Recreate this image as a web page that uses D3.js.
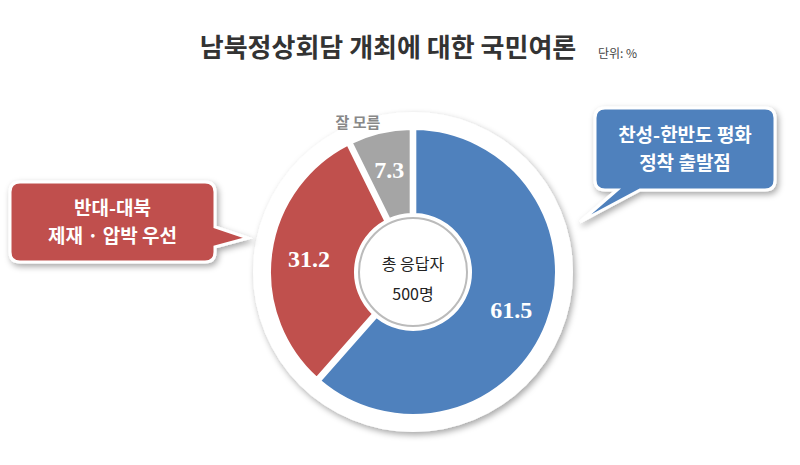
<!DOCTYPE html><html><head><meta charset="utf-8"><script src="https://cdn.jsdelivr.net/npm/d3@7"></script>
<style>body{margin:0;background:#fff}text{font-family:"Noto Sans CJK KR","Noto Sans",sans-serif}</style></head><body>
<svg id="c" width="800" height="465"></svg>
<script>
const categories=["찬성-한반도 평화 정착 출발점","반대-대북 제재 · 압박 우선","잘 모름"];
const values=[61.5,31.2,7.3];
const colors=["#4f81bd","#c0504d","#a5a5a5"];
const svg=d3.select("#c");
svg.append("text").attr("x",388).attr("y",57).attr("text-anchor","middle").attr("font-size",26).attr("font-weight","bold").attr("fill","#333").text("남북정상회담 개최에 대한 국민여론");
svg.append("text").attr("x",598).attr("y",58).attr("font-size",12).attr("fill","#444").text("단위: %");
const cx=413,cy=272;
const defs=svg.append("defs");
const f=defs.append("filter").attr("id","sh").attr("x","-20%").attr("y","-20%").attr("width","140%").attr("height","140%");
f.append("feDropShadow").attr("dx",2).attr("dy",3).attr("stdDeviation",3).attr("flood-opacity",0.35);
const g=svg.append("g").attr("transform",`translate(${cx},${cy})`);
g.append("circle").attr("r",160).attr("fill","#fff").attr("filter","url(#sh)");
const pie=d3.pie().sort(null)(values);
const arc=d3.arc().innerRadius(58).outerRadius(143).padAngle(0.03);
g.selectAll("path").data(pie).join("path").attr("d",arc).attr("fill",(d,i)=>colors[i]).attr("stroke","#fff").attr("stroke-width",2);
const la=d3.arc().innerRadius(105).outerRadius(105);
g.selectAll("text.v").data(pie).join("text").attr("class","v").attr("transform",d=>`translate(${la.centroid(d)})`).attr("text-anchor","middle").attr("dy","0.35em").attr("font-size",24).attr("font-weight","bold").attr("fill","#fff").style("font-family","'Liberation Serif',serif").text(d=>d.data);
g.append("circle").attr("r",54).attr("fill","#fff").attr("stroke","#bbb").attr("stroke-width",2);
g.append("text").attr("y",-2).attr("text-anchor","middle").attr("font-size",16).attr("fill","#222").text("총 응답자");
g.append("text").attr("y",28).attr("text-anchor","middle").attr("font-size",16).attr("fill","#222").text("500명");
svg.append("text").attr("x",358).attr("y",128).attr("text-anchor","middle").attr("font-size",15).attr("font-weight","bold").attr("fill","#888").text("잘 모름");
function callout(x,y,w,h,tip,color,lines){
 const r=10;const p=d3.path();
 p.moveTo(x+r,y);p.lineTo(x+w-r,y);p.quadraticCurveTo(x+w,y,x+w,y+r);
 if(tip[0]>x+w){p.lineTo(x+w,y+h-35);p.lineTo(tip[0],tip[1]);p.lineTo(x+w,y+h-15);}
 p.lineTo(x+w,y+h-r);p.quadraticCurveTo(x+w,y+h,x+w-r,y+h);
 if(tip[0]<x){p.lineTo(x+45,y+h);p.lineTo(tip[0],tip[1]);p.lineTo(x+22,y+h);}
 p.lineTo(x+r,y+h);p.quadraticCurveTo(x,y+h,x,y+h-r);
 p.lineTo(x,y+r);p.quadraticCurveTo(x,y,x+r,y);
 svg.append("path").attr("d",p.toString()).attr("fill",color).attr("stroke","#fff").attr("stroke-width",3).attr("filter","url(#sh)");
 lines.forEach((t,i)=>svg.append("text").attr("x",x+w/2).attr("y",y+h/2+(i-(lines.length-1)/2)*28+7).attr("text-anchor","middle").attr("font-size",19).attr("font-weight","bold").attr("fill","#fff").text(t));
}
callout(595,108,180,82,[580,222],colors[0],["찬성-한반도 평화","정착 출발점"]);
callout(10,182,205,80,[248,238],colors[1],["반대-대북","제재 · 압박 우선"]);
</script></body></html>
